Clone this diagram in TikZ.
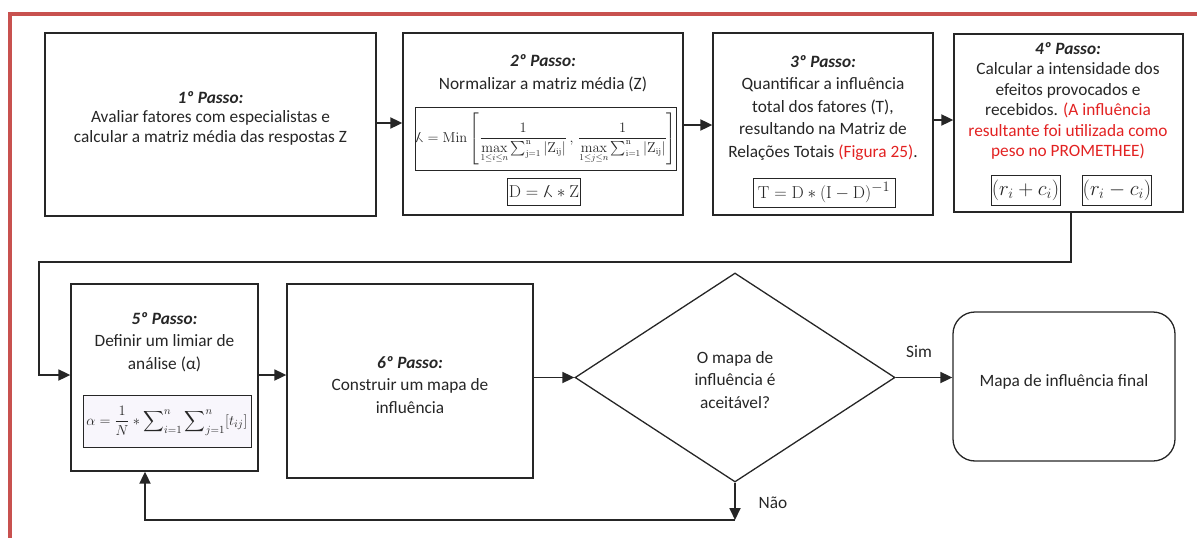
\documentclass[tikz,border=0pt]{standalone}
\usepackage{amsmath}
\usepackage[no-math]{fontspec}
\setmainfont{Carlito}
\usetikzlibrary{arrows.meta,shapes.geometric}

\definecolor{linec}{RGB}{38,38,38}
\definecolor{framered}{RGB}{200,81,79}
\definecolor{notered}{RGB}{226,34,34}
\definecolor{lavender}{RGB}{248,246,252}

\newcommand{\stitle}[1]{\textbf{\textit{#1}}}
\newcommand{\kfac}{\reflectbox{$\lambda$}}

\begin{document}
\begin{tikzpicture}[x=1pt,y=-1pt,
  every node/.style={font=\fontsize{17.3}{21}\selectfont, text=black!85},
  stepbox/.style={draw=linec, line width=1.3pt, inner sep=0pt, rectangle},
  steptext/.style={align=center, inner sep=0pt},
  eqbox/.style={draw=linec, line width=1pt, inner sep=1pt, fill=white},
  arr/.style={draw=linec, line width=1.8pt, -{Triangle[length=12pt,width=11pt]}}
]
\useasboundingbox (0,0) rectangle (1197,538);

% outer frame
\draw[framered, line width=4pt] (10,545) -- (10,14) -- (1205,14);

% ---- first row ----
\node[stepbox, minimum width=331pt, minimum height=183pt] (b1) at (210.5,124.5) {};
\node[steptext, font=\fontsize{17.3}{19.5}\selectfont] (t1) at (210.5,118)
  {\stitle{1º Passo:}\\Avaliar fatores com especialistas e\\calcular a matriz média das respostas Z};

\node[stepbox, minimum width=280pt, minimum height=182pt] (b2) at (543,124) {};
\node[steptext, font=\fontsize{17.3}{23}\selectfont] (t2) at (543,73.5)
  {\stitle{2º Passo:}\\Normalizar a matriz média (Z)};
\node[eqbox, minimum width=246pt, minimum height=63pt, inner sep=0pt] (e2a) at (546,138.5)
  {\fontsize{13.5}{16}\selectfont$\kfac = \mathrm{Min}\left[\dfrac{1}{\max\limits_{1\le i\le n}\sum_{\mathrm{j=1}}^{\mathrm{n}}|\mathrm{Z}_{\mathrm{ij}}|}\,,\,\dfrac{1}{\max\limits_{1\le j\le n}\sum_{\mathrm{i=1}}^{\mathrm{n}}|\mathrm{Z}_{\mathrm{ij}}|}\right]$};
\node[eqbox, minimum width=68pt, minimum height=27pt] (e2b) at (544,191.5)
  {\fontsize{17}{19}\selectfont$\mathrm{D} = \kfac * \mathrm{Z}$};

\node[stepbox, minimum width=220pt, minimum height=182pt] (b3) at (823,124) {};
\node[steptext, font=\fontsize{17.3}{22.5}\selectfont] (t3) at (823,108)
  {\stitle{3º Passo:}\\Quantificar a influência\\total dos fatores (T),\\resultando na Matriz de\\Relações Totais \textcolor{notered}{(Figura 25)}.};
\node[eqbox, minimum width=142pt, minimum height=29pt, inner sep=0pt] (e3) at (824,192.5)
  {\fontsize{19}{21}\selectfont$\mathrm{T} = \mathrm{D} * (\mathrm{I}-\mathrm{D})^{-1}$};

\node[stepbox, minimum width=229pt, minimum height=178pt] (b4) at (1068.5,123) {};
\node[steptext, font=\fontsize{17.3}{20.4}\selectfont] (t4) at (1068,101)
  {\stitle{4º Passo:}\\Calcular a intensidade dos\\efeitos provocados e\\recebidos. \textcolor{notered}{(A influência}\\\textcolor{notered}{resultante foi utilizada como}\\\textcolor{notered}{peso no PROMETHEE)}};
\node[eqbox, minimum width=69pt, minimum height=30pt, inner sep=0pt] (e4a) at (1025.5,190)
  {\fontsize{20}{22}\selectfont$(r_i + c_i)$};
\node[eqbox, minimum width=68pt, minimum height=30pt, inner sep=0pt] (e4b) at (1117,190)
  {\fontsize{20}{22}\selectfont$(r_i - c_i)$};

% ---- second row ----
\node[stepbox, minimum width=187pt, minimum height=187pt] (b5) at (164.5,377.5) {};
\node[steptext, font=\fontsize{17.3}{22.5}\selectfont] (t5) at (164.5,342)
  {\stitle{5º Passo:}\\Definir um limiar de\\análise (α)};
\node[eqbox, fill=lavender, minimum width=168pt, minimum height=52pt, inner sep=0pt] (e5) at (167,421)
  {\fontsize{15}{17}\selectfont$\alpha = \dfrac{1}{N} * \displaystyle\sum\nolimits_{i=1}^{n}\sum\nolimits_{j=1}^{n}[t_{ij}]$};

\node[stepbox, minimum width=246pt, minimum height=194pt] (b6) at (410,381) {};
\node[steptext, font=\fontsize{17.3}{22.5}\selectfont] (t6) at (410,385)
  {\stitle{6º Passo:}\\Construir um mapa de\\influência};

\node[draw=linec, line width=1.3pt, diamond, minimum width=320pt, minimum height=209pt, inner sep=0pt] (dia) at (735,377.5) {};
\node[steptext, font=\fontsize{17.3}{22.5}\selectfont] (tdia) at (735,380)
  {O mapa de\\influência é\\aceitável?};

\node[draw=linec, line width=1.3pt, rounded corners=22pt, minimum width=222pt, minimum height=149pt] (fin) at (1064,386.5) {};
\node[steptext] (tfin) at (1064,382) {Mapa de influência final};

\node[inner sep=0pt] (sim) at (919,352) {Sim};
\node[inner sep=0pt] (nao) at (773,503) {Não};

% ---- connectors ----
\coordinate (turnA) at (39,262);
\coordinate (naoc) at (735,520);
\coordinate (loopc) at (145,520);

\draw[arr] (b1.east |- 0,123) -- (b2.west |- 0,123);
\draw[arr] (b2.east |- 0,125) -- (b3.west |- 0,125);
\draw[arr] (b3.east |- 0,120) -- (b4.west |- 0,120);
\draw[arr] (b4.south -| 1071,0) |- (turnA) |- (b5.west |- 0,375);
\draw[arr] (b5.east |- 0,375) -- (b6.west |- 0,375);
\draw[arr] (b6.east |- dia.west) -- (dia.west);
\draw[arr] (dia.east) -- (dia.east -| fin.west);
\draw[arr] (dia.south) -- (naoc);
\draw[arr] (naoc) -- (loopc) -- (loopc |- b5.south);
\end{tikzpicture}
\end{document}
